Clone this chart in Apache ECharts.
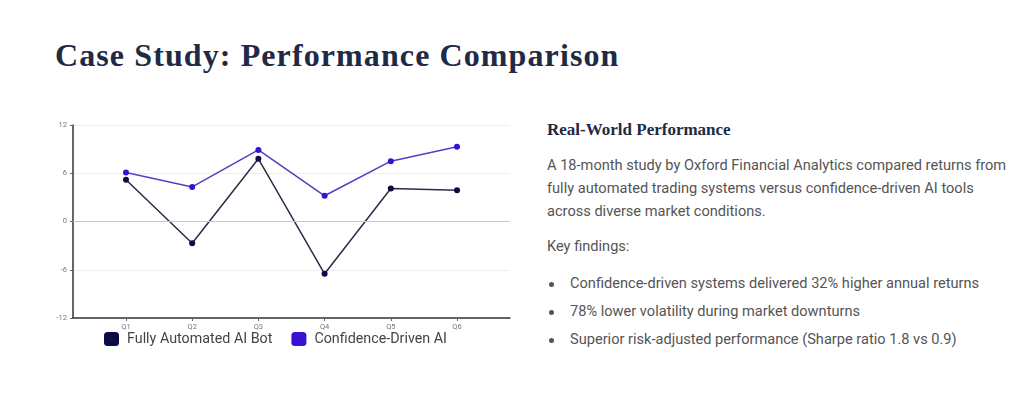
<!DOCTYPE html>
<html>
<head>
<meta charset="utf-8">
<script src="https://cdn.jsdelivr.net/npm/echarts@6/dist/echarts.min.js"></script>
<style>
  html, body { margin: 0; padding: 0; background: #fff; }
  body { width: 1024px; height: 398px; position: relative; overflow: hidden; }
  #title {
    position: absolute; left: 55px; top: 35px; margin: 0;
    font-family: "Liberation Serif", serif; font-weight: bold;
    font-size: 32px; line-height: 40px; letter-spacing: 1.1px; color: #1f2a44;
  }
  #chart { position: absolute; left: 0; top: 0; width: 530px; height: 398px; }
  .side { position: absolute; left: 547px; margin: 0; font-family: Roboto, sans-serif; font-size: 14.6px; line-height: 23px; color: #555; }
  #sub { top: 119px; font-family: "Liberation Serif", serif; font-weight: bold; font-size: 17px; line-height: 22px; color: #1f2a44; }
  #para { top: 154px; width: 462px; }
  #key { top: 235px; }
  ul.side { list-style: none; padding: 0; top: 272px; }
  ul.side li { position: relative; padding-left: 23px; height: 28px; line-height: 23px; }
  ul.side li::before { content: ""; position: absolute; left: 2px; top: 10px; width: 5px; height: 5px; border-radius: 50%; background: #555; }
</style>
</head>
<body>
<h1 id="title">Case Study: Performance Comparison</h1>
<div id="chart"></div>
<h3 class="side" id="sub">Real-World Performance</h3>
<p class="side" id="para">A 18-month study by Oxford Financial Analytics compared returns from fully automated trading systems versus confidence-driven AI tools across diverse market conditions.</p>
<p class="side" id="key">Key findings:</p>
<ul class="side">
  <li>Confidence-driven systems delivered 32% higher annual returns</li>
  <li>78% lower volatility during market downturns</li>
  <li>Superior risk-adjusted performance (Sharpe ratio 1.8 vs 0.9)</li>
</ul>
<script>
const quarters = ['Q1', 'Q2', 'Q3', 'Q4', 'Q5', 'Q6'];
const automated = [5.2, -2.7, 7.8, -6.5, 4.1, 3.9];
const confidence = [6.1, 4.3, 8.9, 3.2, 7.5, 9.3];
const yTicks = [-12, -6, 0, 6, 12];

// quarters sit on a value axis so the plot keeps its wide side margins
const toPoints = vals => vals.map((v, i) => [i + 1, v]);
const qPositions = quarters.map((q, i) => i + 1);

const chart = echarts.init(document.getElementById('chart'));
chart.setOption({
  animation: false,
  grid: { left: 73, top: 125, width: 437, height: 193 },
  legend: {
    left: 104, top: 332, padding: 0,
    itemWidth: 15, itemHeight: 14, itemGap: 19,
    icon: 'roundRect',
    textStyle: { fontFamily: 'Roboto', fontSize: 14.3, color: '#444', padding: [0, 0, 0, 3] },
    data: ['Fully Automated AI Bot', 'Confidence-Driven AI']
  },
  xAxis: {
    type: 'value', min: 0.2, max: 6.8,
    axisLine: { onZero: false, lineStyle: { color: '#333', width: 1.5 } },
    axisTick: { show: true, customValues: qPositions, length: 3, lineStyle: { color: '#666' } },
    axisLabel: {
      customValues: qPositions, margin: 5,
      fontFamily: 'Roboto', fontSize: 7.5, color: '#777',
      formatter: v => quarters[v - 1]
    },
    splitLine: { show: false }
  },
  yAxis: {
    type: 'value', min: yTicks[0], max: yTicks[yTicks.length - 1], interval: 6,
    axisLine: { show: true, lineStyle: { color: '#333', width: 1.5 } },
    axisTick: { show: true, length: 3, lineStyle: { color: '#666' } },
    axisLabel: { fontFamily: 'Roboto', fontSize: 7.5, color: '#777', margin: 6 },
    splitLine: { lineStyle: { color: '#eee' } }
  },
  series: [
    {
      name: 'Fully Automated AI Bot', type: 'line', data: toPoints(automated),
      symbol: 'circle', symbolSize: 6,
      itemStyle: { color: '#0d0b45' },
      lineStyle: { color: '#2e2b4a', width: 1.5 },
      markLine: {
        silent: true, symbol: 'none', label: { show: false },
        lineStyle: { color: '#c8c8c8', type: 'solid', width: 1 },
        data: [{ yAxis: 0 }]
      },
      z: 3
    },
    {
      name: 'Confidence-Driven AI', type: 'line', data: toPoints(confidence),
      symbol: 'circle', symbolSize: 6,
      itemStyle: { color: '#3a10d4' },
      lineStyle: { color: '#5a3cc4', width: 1.5 },
      z: 2
    }
  ]
});
</script>
</body>
</html>
